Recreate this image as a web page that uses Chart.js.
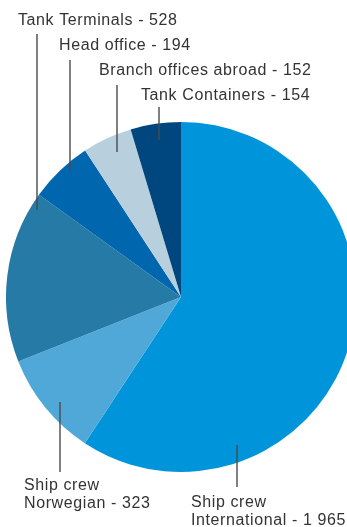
<!DOCTYPE html>
<html lang="en">
<head>
    <meta charset="UTF-8">
    <title>Employees</title>
    <script src="https://cdn.jsdelivr.net/npm/chart.js"></script>
    <style>
        html, body {
            margin: 0;
            padding: 0;
            background: #ffffff;
            overflow: hidden;
        }
        #chart {
            position: absolute;
            left: 0;
            top: 0;
        }
    </style>
</head>
<body>
    <canvas id="chart" width="362" height="527"></canvas>
    <script>
        // data, clockwise from 12 o'clock
        const categories = ['Ship crew International', 'Ship crew Norwegian', 'Tank Terminals', 'Head office', 'Branch offices abroad', 'Tank Containers'];
        const employees = [1965, 323, 528, 194, 152, 154];
        const valueLabels = ['1 965', '323', '528', '194', '152', '154'];
        const sliceColors = ['#0095da', '#4fa8d8', '#267ba6', '#0066ae', '#b8d0de', '#00467f'];

        // label text lines + leader line for each slice (annotation layout)
        const labelLayout = [
            { lines: ['Ship crew', 'International - '], x: 191, y: 507, lx: 237, ly1: 445, ly2: 487 },
            { lines: ['Ship crew', 'Norwegian - '], x: 24, y: 490, lx: 60, ly1: 402, ly2: 472 },
            { lines: ['Tank Terminals - '], x: 18, y: 25, lx: 37, ly1: 34, ly2: 210 },
            { lines: ['Head office - '], x: 59, y: 50, lx: 70, ly1: 60, ly2: 171 },
            { lines: ['Branch offices abroad - '], x: 99, y: 75, lx: 117, ly1: 85, ly2: 152 },
            { lines: ['Tank Containers - '], x: 141, y: 100, lx: 159, ly1: 107, ly2: 140 }
        ];

        const leaderLabels = {
            id: 'leaderLabels',
            afterDraw(chart) {
                const ctx = chart.ctx;
                ctx.save();
                ctx.strokeStyle = '#4a4a4a';
                ctx.lineWidth = 1.4;
                ctx.fillStyle = '#333333';
                ctx.font = '16px "Liberation Sans", Arial, sans-serif';
                ctx.letterSpacing = '0.6px';
                ctx.textBaseline = 'alphabetic';
                labelLayout.forEach((lab, i) => {
                    ctx.beginPath();
                    ctx.moveTo(lab.lx, lab.ly1);
                    ctx.lineTo(lab.lx, lab.ly2);
                    ctx.stroke();
                    lab.lines.forEach((t, j) => {
                        let txt = t;
                        if (j === lab.lines.length - 1) txt += valueLabels[i];
                        ctx.fillText(txt, lab.x, lab.y + j * 18);
                    });
                });
                ctx.restore();
            }
        };

        new Chart(document.getElementById('chart'), {
            type: 'pie',
            data: {
                labels: categories,
                datasets: [{
                    data: employees,
                    backgroundColor: sliceColors,
                    borderWidth: 0
                }]
            },
            options: {
                responsive: false,
                animation: false,
                layout: { padding: { left: 6, right: 6, top: 122, bottom: 55 } },
                plugins: {
                    legend: { display: false },
                    tooltip: { enabled: false }
                }
            },
            plugins: [leaderLabels]
        });
    </script>
</body>
</html>
